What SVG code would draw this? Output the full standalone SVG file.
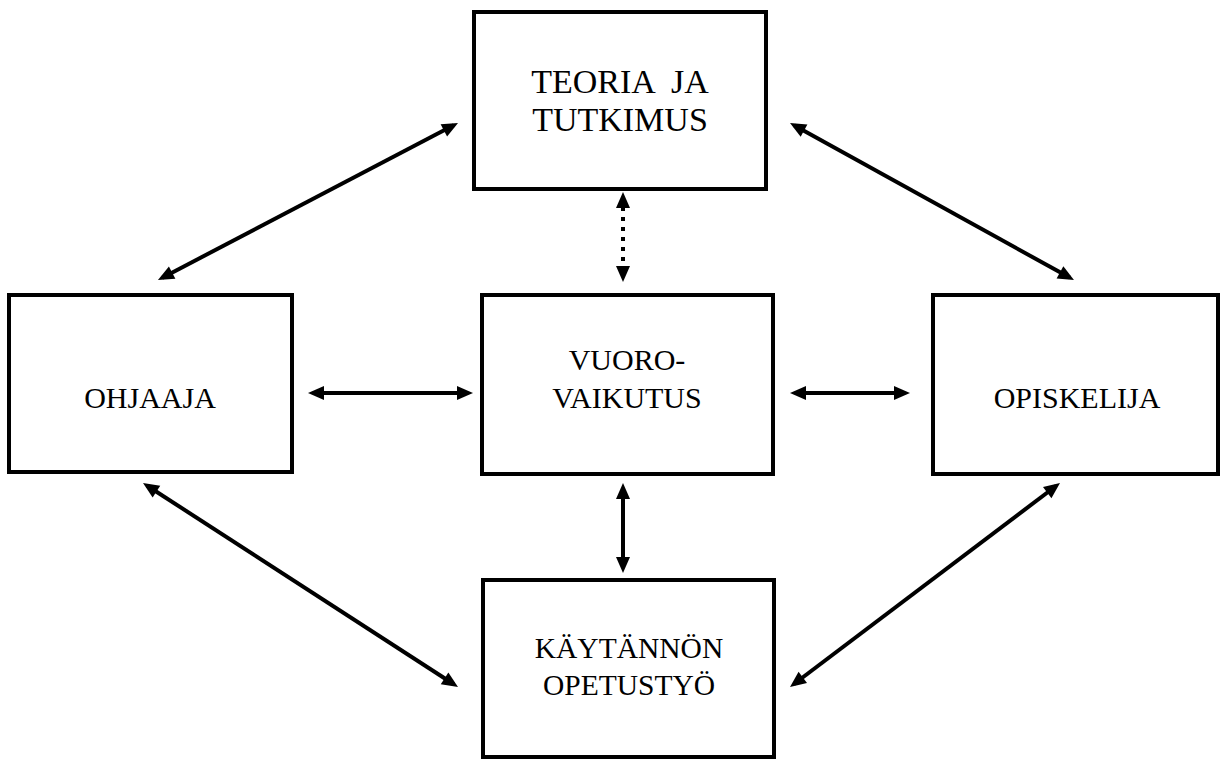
<svg xmlns="http://www.w3.org/2000/svg" width="1225" height="761" viewBox="0 0 1225 761">
<style>
.box{fill:#fff;stroke:#000;stroke-width:4}
.lbl{font-family:"Liberation Serif","Times New Roman",serif;fill:#000;text-anchor:middle}
.con{stroke:#000;stroke-width:4;fill:none;marker-start:url(#ah);marker-end:url(#ah)}
.dot{stroke-dasharray:4 6}
</style>
<defs>
<marker id="ah" markerUnits="userSpaceOnUse" markerWidth="16" markerHeight="14" refX="11" refY="7" orient="auto-start-reverse" overflow="visible">
<path d="M0,0 L16,7 L0,14 z" fill="#000"/>
</marker>
</defs>
<rect width="1225" height="761" fill="#fff"/>
<g id="teoria">
<rect class="box" x="474" y="12" width="292" height="177"/>
<text class="lbl" x="620" y="93" font-size="34" xml:space="preserve">TEORIA  JA</text>
<text class="lbl" x="620" y="131" font-size="34">TUTKIMUS</text>
</g>
<g id="ohjaaja">
<rect class="box" x="9" y="295" width="283" height="177"/>
<text class="lbl" x="150" y="408" font-size="30">OHJAAJA</text>
</g>
<g id="vuorovaikutus">
<rect class="box" x="482" y="295" width="291" height="179"/>
<text class="lbl" x="627" y="370" font-size="30">VUORO-</text>
<text class="lbl" x="627" y="408" font-size="30">VAIKUTUS</text>
</g>
<g id="opiskelija">
<rect class="box" x="933" y="295" width="285" height="179"/>
<text class="lbl" x="1077" y="408" font-size="30">OPISKELIJA</text>
</g>
<g id="kaytannon">
<rect class="box" x="483" y="580" width="291" height="177"/>
<text class="lbl" x="629" y="658" font-size="29.5">KÄYTÄNNÖN</text>
<text class="lbl" x="629" y="695" font-size="29.5">OPETUSTYÖ</text>
</g>
<g id="connectors">
<line class="con" x1="162.4" y1="277.7" x2="453.6" y2="125.3"/>
<line class="con" x1="794.4" y1="125.4" x2="1069.6" y2="277.6"/>
<line class="con" x1="147.2" y1="485.7" x2="453.8" y2="684.3"/>
<line class="con" x1="1056" y1="486" x2="794" y2="684"/>
<line class="con" x1="313" y1="393" x2="468" y2="393"/>
<line class="con" x1="795" y1="393" x2="905" y2="393"/>
<line class="con dot" x1="623" y1="197" x2="623" y2="277"/>
<line class="con" x1="623" y1="488" x2="623" y2="568"/>
</g>
</svg>
